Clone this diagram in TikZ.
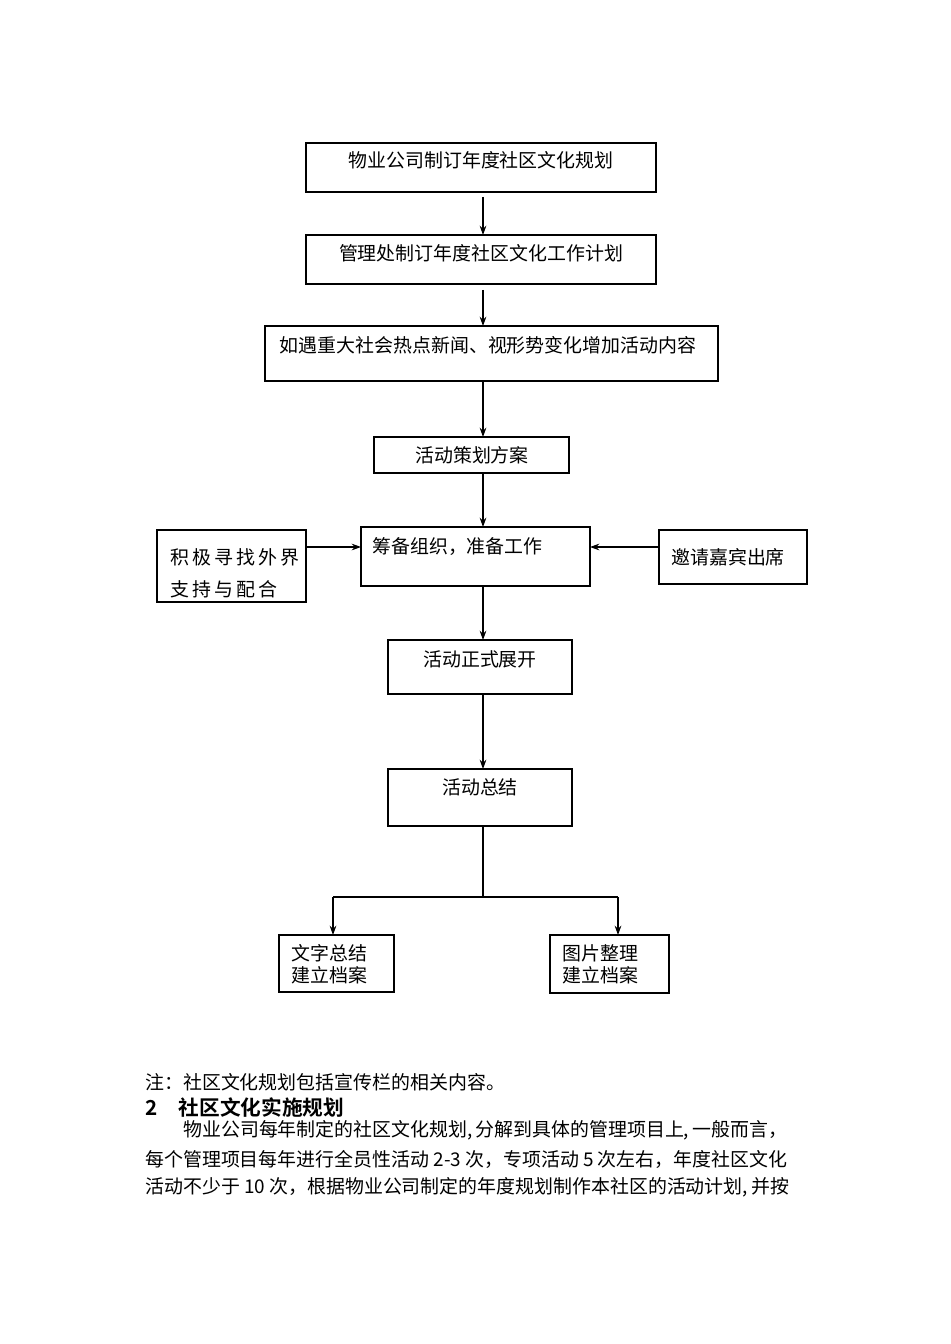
\documentclass[tikz,border=0pt]{standalone}
\usepackage{fontspec}
\newfontfamily\cjk{Noto Sans CJK SC}
\newfontfamily\cjkb{Noto Sans CJK SC Bold}
\usetikzlibrary{arrows.meta}
\begin{document}
\begin{tikzpicture}[x=0.75pt,y=-0.75pt,
 box/.style={draw,line width=0.9pt},
 lbl/.style={font=\cjk\fontsize{14.2}{16}\selectfont,inner sep=0pt},
 arr/.style={-{Stealth[length=7pt,width=5pt]},line width=0.8pt},
 ln/.style={line width=0.8pt}]
\useasboundingbox[fill=white] (0,0) rectangle (950,1344);
\draw[box] (306,143) rectangle (656,192); \node[lbl] (t1) at (481,160) {物业公司制订年度社区文化规划};
\draw[box] (306,235) rectangle (656,284); \node[lbl] (t2) at (481,253) {管理处制订年度社区文化工作计划};
\draw[box] (265,326) rectangle (718,381); \node[lbl] (t3) at (488,345) {如遇重大社会热点新闻、视形势变化增加活动内容};
\draw[box] (374,437) rectangle (569,473); \node[lbl] (t4) at (472,455) {活动策划方案};
\draw[box] (361,527) rectangle (590,586); \node[lbl,anchor=west] (t5) at (372,547) {筹备组织，准备工作};
\draw[box] (157,530) rectangle (306,602);
\node[lbl,anchor=west] (tl1) at (170,557) {积\,极\,寻\,找\,外\,界};
\node[lbl,anchor=west] (tl2) at (170,589) {支\,持\,与\,配\,合};
\draw[box] (659,530) rectangle (807,584); \node[lbl,anchor=west] (tr) at (671,557) {邀请嘉宾出席};
\draw[box] (388,640) rectangle (572,694); \node[lbl] (t6) at (480,659) {活动正式展开};
\draw[box] (388,769) rectangle (572,826); \node[lbl] (t7) at (480,787) {活动总结};
\draw[box] (279,935) rectangle (394,992);
\node[lbl,anchor=west] (t8a) at (291,953) {文字总结};
\node[lbl,anchor=west] (t8b) at (291,975) {建立档案};
\draw[box] (550,935) rectangle (669,993);
\node[lbl,anchor=west] (t9a) at (562,953) {图片整理};
\node[lbl,anchor=west] (t9b) at (562,975) {建立档案};
\coordinate (a1) at (483,197); \coordinate (b1) at (483,235);
\coordinate (a2) at (483,290); \coordinate (b2) at (483,326);
\draw[arr] (a1)--(b1); \draw[arr] (a2)--(b2);
\draw[arr] (483,381)--(483,437);
\draw[arr] (483,473)--(483,527);
\draw[arr] (483,586)--(483,640);
\draw[arr] (483,694)--(483,769);
\draw[arr] (306,547)--(361,547);
\draw[arr] (659,547)--(590,547);
\draw[ln] (483,826)--(483,897);
\draw[ln] (333,897)--(618,897);
\draw[arr] (333,897)--(333,935);
\draw[arr] (618,897)--(618,935);
\node[lbl,anchor=west] (n1) at (145,1082) {注：社区文化规划包括宣传栏的相关内容。};
\node[anchor=west,inner sep=0pt,font=\cjkb\fontsize{15.5}{17}\selectfont] (h) at (145,1108) {2\hspace{16pt}社区文化实施规划};
\node[lbl,anchor=west] (p1) at (183,1130) {物业公司每年制定的社区文化规划,\,分解到具体的管理项目上,\,一般而言，};
\node[lbl,anchor=west] (p2) at (145,1159) {每个管理项目每年进行全员性活动 2-3 次，专项活动 5 次左右，年度社区文化};
\node[lbl,anchor=west] (p3) at (145,1187) {活动不少于 10 次，根据物业公司制定的年度规划制作本社区的活动计划,\,并按};
\end{tikzpicture}
\end{document}
